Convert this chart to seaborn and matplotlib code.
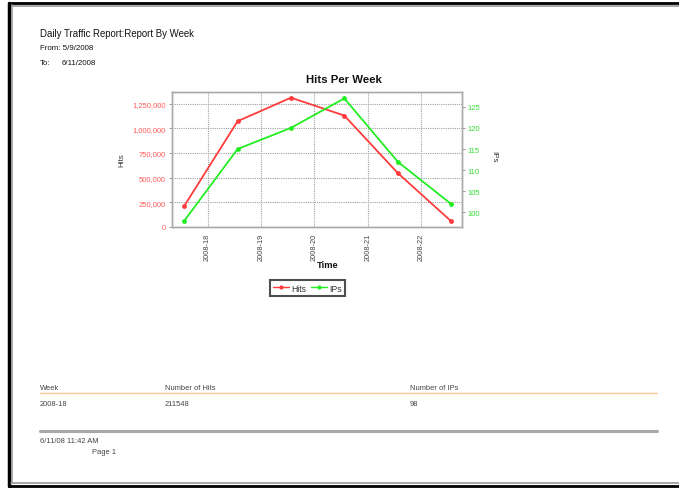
import numpy as np
import pandas as pd
import matplotlib
matplotlib.use("Agg")
import matplotlib.pyplot as plt
import seaborn as sns
from matplotlib.lines import Line2D

# ---------------------------------------------------------------- data
weeks = ["2008-18", "2008-19", "2008-20", "2008-21", "2008-22"]
hits = [211548, 1074000, 1313000, 1131000, 547000, 57000]
ips = [98, 115, 120, 127, 112, 102]
hits_ticks = [0, 250000, 500000, 750000, 1000000, 1250000]
ips_ticks = [100, 105, 110, 115, 120, 125]
table_header = ["Week", "Number of Hits", "Number of IPs"]
table_row = ["2008-18", "211548", "98"]

df = pd.DataFrame({"pos": np.arange(len(hits)), "Hits": hits, "IPs": ips})

W, H = 679, 489
RED = "#ff3b3b"
GREEN = "#22ee22"
FONT = "Liberation Sans"

sns.set_style("white")
plt.rcParams["font.family"] = [FONT, "DejaVu Sans"]

fig = plt.figure(figsize=(W / 100, H / 100), dpi=100)


def fx(x):
    return x / W


def fy(y):
    return 1 - y / H


# ---------------------------------------------------------------- page frame
fig.add_artist(Line2D([fx(9), fx(679)], [fy(4), fy(4)], color="black", lw=2))
fig.add_artist(Line2D([fx(9), fx(679)], [fy(6.5), fy(6.5)], color="#999999", lw=1.2))
fig.add_artist(Line2D([fx(9), fx(9)], [fy(4), fy(487)], color="black", lw=2.5))
fig.add_artist(Line2D([fx(11.5), fx(11.5)], [fy(6), fy(484)], color="#999999", lw=1.2))
fig.add_artist(Line2D([fx(9), fx(679)], [fy(486.5), fy(486.5)], color="black", lw=2))
fig.add_artist(Line2D([fx(11), fx(679)], [fy(484), fy(484)], color="#999999", lw=1.2))

# ---------------------------------------------------------------- header text
fig.text(fx(40), fy(34), "Daily Traffic Report:Report By Week", fontsize=6.9,
         va="center", ha="left", color="#111111")
fig.text(fx(40), fy(48.5), "From: 5/9/2008", fontsize=5.7, va="center", color="#111111")
fig.text(fx(40), fy(63.5), "To:", fontsize=5.7, va="center", color="#111111")
fig.text(fx(62), fy(63.5), "6/11/2008", fontsize=5.7, va="center", color="#111111")

# ---------------------------------------------------------------- chart
ax = fig.add_axes([fx(172), fy(227.7), fx(461.7) - fx(172), fy(93) - fy(227.7)])
ax2 = ax.twinx()

sns.lineplot(data=df, x="pos", y="Hits", ax=ax, color=RED, lw=1.3,
             marker="o", markersize=3.5, markeredgewidth=0)
sns.lineplot(data=df, x="pos", y="IPs", ax=ax2, color=GREEN, lw=1.3,
             marker="o", markersize=3.5, markeredgewidth=0)

tick_pos = np.arange(len(weeks)) + 0.437
ax.set_xlim(-0.23, 5.2)
ax.set_xticks(tick_pos)
ax.set_xticklabels(weeks, rotation=90, fontsize=5.3, color="#444444")
ax.set_ylim(0, 1371000)
ax.set_yticks(hits_ticks)
ax.set_yticklabels([f"{v:,}" for v in hits_ticks], fontsize=5.5, color="#ff5a5a")
ax2.set_ylim(96.6, 128.5)
ax2.set_yticks(ips_ticks)
ax2.set_yticklabels([str(v) for v in ips_ticks], fontsize=5.5, color="#33dd33")

ax.grid(True, color="#a0a0a0", lw=0.8, linestyle=(0, (1, 1)))
for a in (ax, ax2):
    a.tick_params(length=2.5, width=0.6, color="#888888", pad=2)
    for s in a.spines.values():
        s.set_color("#aaaaaa")
        s.set_linewidth(1.0)
ax.set_xlabel("")
ax.set_ylabel("")
ax2.set_ylabel("")

fig.text(fx(344), fy(80), "Hits Per Week", fontsize=8.2, fontweight="bold",
         ha="center", va="center", color="#111111")
fig.text(fx(328), fy(266), "Time", fontsize=6.7, fontweight="bold",
         ha="center", va="center", color="#111111")
fig.text(fx(122), fy(160), "Hits", fontsize=5.8, rotation=90,
         ha="center", va="center", color="#333333")
fig.text(fx(494), fy(157), "IPs", fontsize=5.8, rotation=270,
         ha="center", va="center", color="#333333")

# legend
handles = [Line2D([], [], color=RED, lw=1, marker="o", markersize=3, markeredgewidth=0),
           Line2D([], [], color=GREEN, lw=1, marker="o", markersize=3, markeredgewidth=0)]
leg = fig.legend(handles, ["Hits", "IPs"], loc="center", bbox_to_anchor=(fx(307.5), fy(289)),
                 ncol=2, fontsize=6.2, frameon=True, fancybox=False, handlelength=1.8,
                 handletextpad=0.3, columnspacing=0.6, borderpad=0.4, labelcolor="#333333")
leg.get_frame().set_edgecolor("#222222")
leg.get_frame().set_linewidth(1.5)

# ---------------------------------------------------------------- table
cols_x = [40, 165, 410]
for x, t in zip(cols_x, table_header):
    fig.text(fx(x), fy(389), t, fontsize=5.4, va="center", color="#444444")
for x, t in zip(cols_x, table_row):
    fig.text(fx(x), fy(405), t, fontsize=5.4, va="center", color="#444444")
fig.add_artist(Line2D([fx(40), fx(657)], [fy(394), fy(394)], color="#ffc896", lw=1.0))
fig.add_artist(Line2D([fx(40), fx(657)], [fy(431.5), fy(431.5)], color="#a8a8a8", lw=2.2))

fig.text(fx(40), fy(442), "6/11/08 11:42 AM", fontsize=5.4, va="center", color="#444444")
fig.text(fx(92), fy(453), "Page 1", fontsize=5.4, va="center", color="#444444")

fig.savefig("out.png", dpi=100)
plt.close()
